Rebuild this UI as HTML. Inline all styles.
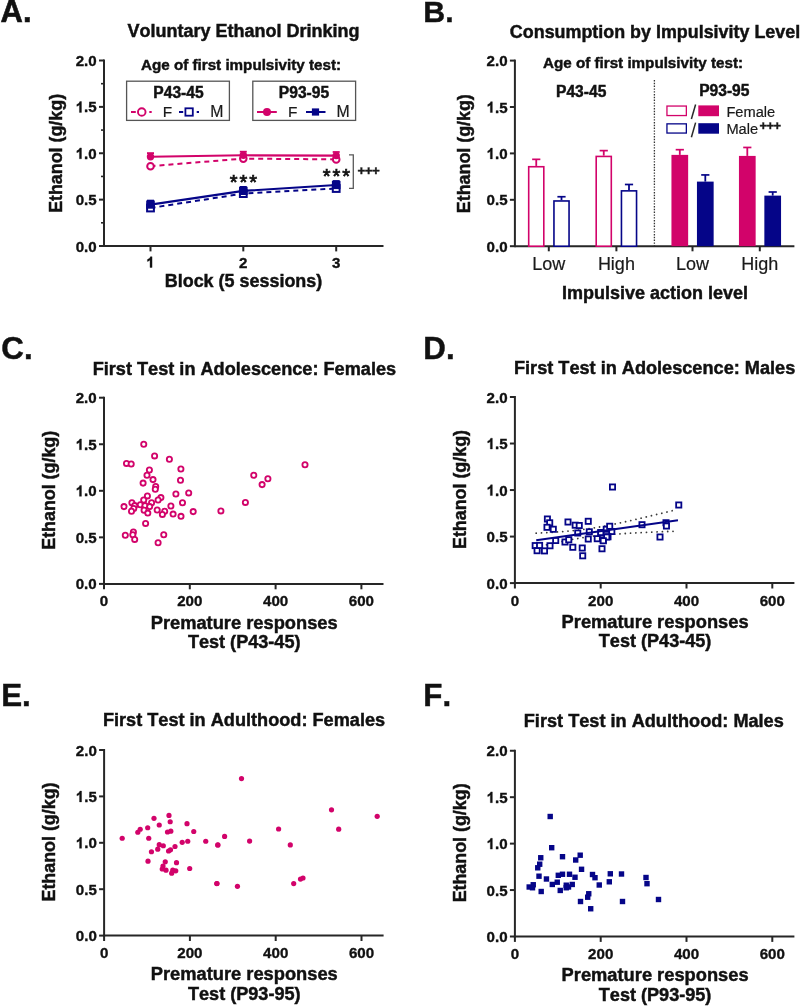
<!DOCTYPE html>
<html><head><meta charset="utf-8"><style>
html,body{margin:0;padding:0;background:#fff;}
svg{display:block;font-family:"Liberation Sans", sans-serif;font-kerning:none;will-change:transform;}
</style></head><body>
<svg width="800" height="1006" viewBox="0 0 800 1006">
<rect width="800" height="1006" fill="#fff"/>
<text x="0.60" y="21.90" font-size="30.9" font-weight="bold" text-anchor="start" fill="#111" stroke="#111" stroke-width="0.6">A.</text>
<text x="243.40" y="37.40" font-size="18.0" font-weight="bold" text-anchor="middle" fill="#111"  stroke="#111" stroke-width="0.45">Voluntary Ethanol Drinking</text>
<text x="241.00" y="69.80" font-size="15.2" font-weight="bold" text-anchor="middle" fill="#111"  stroke="#111" stroke-width="0.45">Age of first impulsivity test:</text>
<rect x="126.60" y="81.20" width="102.80" height="39.20" fill="none" stroke="#555" stroke-width="1.3" />
<rect x="252.80" y="81.20" width="102.80" height="39.20" fill="none" stroke="#555" stroke-width="1.3" />
<text x="178.50" y="97.50" font-size="15.6" font-weight="bold" text-anchor="middle" fill="#111"  stroke="#111" stroke-width="0.45">P43-45</text>
<text x="304.00" y="97.50" font-size="15.6" font-weight="bold" text-anchor="middle" fill="#111"  stroke="#111" stroke-width="0.45">P93-95</text>
<line x1="131.00" y1="112.00" x2="135.80" y2="112.00" stroke="#d2036a" stroke-width="2" />
<circle cx="141.75" cy="112.00" r="3.80" fill="#fff" stroke="#d2036a" stroke-width="1.9"/>
<line x1="149.30" y1="112.00" x2="151.70" y2="112.00" stroke="#d2036a" stroke-width="2" />
<text x="167.40" y="116.60" font-size="15.4" font-weight="normal" text-anchor="middle" fill="#1a1a1a"  stroke="#1a1a1a" stroke-width="0.2">F</text>
<line x1="179.00" y1="112.00" x2="183.20" y2="112.00" stroke="#050588" stroke-width="2" />
<rect x="185.40" y="108.30" width="7.40" height="7.40" fill="#fff" stroke="#050588" stroke-width="1.8" />
<line x1="196.70" y1="112.00" x2="199.00" y2="112.00" stroke="#050588" stroke-width="2" />
<text x="216.90" y="116.60" font-size="15.8" font-weight="normal" text-anchor="middle" fill="#1a1a1a"  stroke="#1a1a1a" stroke-width="0.2">M</text>
<line x1="257.00" y1="112.00" x2="276.80" y2="112.00" stroke="#d2036a" stroke-width="2" />
<circle cx="267.00" cy="112.00" r="4.00" fill="#d2036a" stroke="none" stroke-width="0"/>
<text x="292.80" y="116.60" font-size="15.4" font-weight="normal" text-anchor="middle" fill="#1a1a1a"  stroke="#1a1a1a" stroke-width="0.2">F</text>
<line x1="306.00" y1="112.00" x2="325.50" y2="112.00" stroke="#050588" stroke-width="2" />
<rect x="311.90" y="108.40" width="7.20" height="7.20" fill="#050588" stroke="none" stroke-width="0" />
<text x="343.00" y="116.60" font-size="15.8" font-weight="normal" text-anchor="middle" fill="#1a1a1a"  stroke="#1a1a1a" stroke-width="0.2">M</text>
<line x1="104.00" y1="59.50" x2="104.00" y2="247.00" stroke="#262626" stroke-width="2" />
<line x1="99.00" y1="246.00" x2="104.00" y2="246.00" stroke="#262626" stroke-width="2" />
<text x="96.70" y="251.50" font-size="15.1" font-weight="bold" text-anchor="end" fill="#111" stroke="#111" stroke-width="0.35">0.0</text>
<line x1="101.00" y1="222.81" x2="104.00" y2="222.81" stroke="#262626" stroke-width="1.6" />
<line x1="99.00" y1="199.62" x2="104.00" y2="199.62" stroke="#262626" stroke-width="2" />
<text x="96.70" y="205.12" font-size="15.1" font-weight="bold" text-anchor="end" fill="#111" stroke="#111" stroke-width="0.35">0.5</text>
<line x1="101.00" y1="176.44" x2="104.00" y2="176.44" stroke="#262626" stroke-width="1.6" />
<line x1="99.00" y1="153.25" x2="104.00" y2="153.25" stroke="#262626" stroke-width="2" />
<path d="M780,0 L506,0 L506,1032 Q356,892 152,825 L152,1073 Q259,1108 385,1206 Q511,1304 558,1466 L780,1466 Z" fill="#111" stroke="#111" stroke-width="47.5" transform="translate(75.71,158.75) scale(0.00737,-0.00737)"/>
<text x="84.11" y="158.75" font-size="15.1" font-weight="bold" text-anchor="start" fill="#111" stroke="#111" stroke-width="0.35">.0</text>
<line x1="101.00" y1="130.06" x2="104.00" y2="130.06" stroke="#262626" stroke-width="1.6" />
<line x1="99.00" y1="106.88" x2="104.00" y2="106.88" stroke="#262626" stroke-width="2" />
<path d="M780,0 L506,0 L506,1032 Q356,892 152,825 L152,1073 Q259,1108 385,1206 Q511,1304 558,1466 L780,1466 Z" fill="#111" stroke="#111" stroke-width="47.5" transform="translate(75.71,112.38) scale(0.00737,-0.00737)"/>
<text x="84.11" y="112.38" font-size="15.1" font-weight="bold" text-anchor="start" fill="#111" stroke="#111" stroke-width="0.35">.5</text>
<line x1="101.00" y1="83.69" x2="104.00" y2="83.69" stroke="#262626" stroke-width="1.6" />
<line x1="99.00" y1="60.50" x2="104.00" y2="60.50" stroke="#262626" stroke-width="2" />
<text x="96.70" y="66.00" font-size="15.1" font-weight="bold" text-anchor="end" fill="#111" stroke="#111" stroke-width="0.35">2.0</text>
<line x1="103.00" y1="246.00" x2="383.50" y2="246.00" stroke="#262626" stroke-width="2" />
<line x1="150.50" y1="246.00" x2="150.50" y2="251.40" stroke="#262626" stroke-width="2" />
<path d="M780,0 L506,0 L506,1032 Q356,892 152,825 L152,1073 Q259,1108 385,1206 Q511,1304 558,1466 L780,1466 Z" fill="#111" stroke="#111" stroke-width="47.5" transform="translate(146.30,267.50) scale(0.00737,-0.00737)"/>
<line x1="243.30" y1="246.00" x2="243.30" y2="251.40" stroke="#262626" stroke-width="2" />
<text x="243.30" y="267.50" font-size="15.1" font-weight="bold" text-anchor="middle" fill="#111" stroke="#111" stroke-width="0.35">2</text>
<line x1="336.20" y1="246.00" x2="336.20" y2="251.40" stroke="#262626" stroke-width="2" />
<text x="336.20" y="267.50" font-size="15.1" font-weight="bold" text-anchor="middle" fill="#111" stroke="#111" stroke-width="0.35">3</text>
<text x="243.50" y="286.75" font-size="17.95" font-weight="bold" text-anchor="middle" fill="#111"  stroke="#111" stroke-width="0.45">Block (5 sessions)</text>
<text x="0.00" y="0.00" font-size="17.85" font-weight="bold" text-anchor="middle" fill="#111" transform="translate(62.00,153.40) rotate(-90)" stroke="#111" stroke-width="0.45">Ethanol (g/kg)</text>
<path d="M150.50,166.20 L243.30,158.60 L336.20,159.40" stroke="#d2036a" stroke-width="2" fill="none" stroke-dasharray="5,4"/>
<path d="M150.50,208.00 L243.30,193.60 L336.20,188.50" stroke="#050588" stroke-width="2" fill="none" stroke-dasharray="5,4"/>
<path d="M150.50,156.70 L243.30,155.30 L336.20,155.60" stroke="#d2036a" stroke-width="2.1" fill="none" />
<path d="M150.50,204.60 L243.30,190.90 L336.20,185.00" stroke="#050588" stroke-width="2.1" fill="none" />
<line x1="150.50" y1="156.70" x2="150.50" y2="153.10" stroke="#d2036a" stroke-width="1.6" />
<line x1="147.00" y1="153.10" x2="154.00" y2="153.10" stroke="#d2036a" stroke-width="1.8" />
<line x1="243.30" y1="155.30" x2="243.30" y2="151.70" stroke="#d2036a" stroke-width="1.6" />
<line x1="239.80" y1="151.70" x2="246.80" y2="151.70" stroke="#d2036a" stroke-width="1.8" />
<line x1="336.20" y1="155.60" x2="336.20" y2="152.00" stroke="#d2036a" stroke-width="1.6" />
<line x1="332.70" y1="152.00" x2="339.70" y2="152.00" stroke="#d2036a" stroke-width="1.8" />
<line x1="150.50" y1="204.60" x2="150.50" y2="200.60" stroke="#050588" stroke-width="1.6" />
<line x1="147.00" y1="200.60" x2="154.00" y2="200.60" stroke="#050588" stroke-width="1.8" />
<line x1="243.30" y1="190.90" x2="243.30" y2="186.90" stroke="#050588" stroke-width="1.6" />
<line x1="239.80" y1="186.90" x2="246.80" y2="186.90" stroke="#050588" stroke-width="1.8" />
<line x1="336.20" y1="185.00" x2="336.20" y2="181.00" stroke="#050588" stroke-width="1.6" />
<line x1="332.70" y1="181.00" x2="339.70" y2="181.00" stroke="#050588" stroke-width="1.8" />
<circle cx="150.50" cy="166.20" r="3.30" fill="#fff" stroke="#d2036a" stroke-width="2.0"/>
<circle cx="243.30" cy="158.60" r="3.30" fill="#fff" stroke="#d2036a" stroke-width="2.0"/>
<circle cx="336.20" cy="159.40" r="3.30" fill="#fff" stroke="#d2036a" stroke-width="2.0"/>
<rect x="147.10" y="204.60" width="6.80" height="6.80" fill="#fff" stroke="#050588" stroke-width="2" />
<rect x="239.90" y="190.20" width="6.80" height="6.80" fill="#fff" stroke="#050588" stroke-width="2" />
<rect x="332.80" y="185.10" width="6.80" height="6.80" fill="#fff" stroke="#050588" stroke-width="2" />
<circle cx="150.50" cy="156.70" r="3.70" fill="#d2036a" stroke="none" stroke-width="0"/>
<circle cx="243.30" cy="155.30" r="3.70" fill="#d2036a" stroke="none" stroke-width="0"/>
<circle cx="336.20" cy="155.60" r="3.70" fill="#d2036a" stroke="none" stroke-width="0"/>
<rect x="146.20" y="200.50" width="8.60" height="8.20" fill="#050588" stroke="none" stroke-width="0" />
<rect x="239.00" y="186.80" width="8.60" height="8.20" fill="#050588" stroke="none" stroke-width="0" />
<rect x="331.90" y="180.90" width="8.60" height="8.20" fill="#050588" stroke="none" stroke-width="0" />
<text x="244.40" y="189.00" font-size="20" font-weight="normal" text-anchor="middle" fill="#111" letter-spacing="1.9" stroke="#111" stroke-width="0.75">***</text>
<text x="337.40" y="182.50" font-size="20" font-weight="normal" text-anchor="middle" fill="#111" letter-spacing="1.9" stroke="#111" stroke-width="0.75">***</text>
<path d="M349.0,154.9 L353.3,154.9 L353.3,188.4 L349.0,188.4" stroke="#5a5a5a" stroke-width="1.3" fill="none" />
<text x="368.30" y="175.20" font-size="13.3" font-weight="bold" text-anchor="middle" fill="#1a1a1a" letter-spacing="-0.6" stroke="#1a1a1a" stroke-width="0.45">+++</text>
<text x="423.30" y="21.90" font-size="30.3" font-weight="bold" text-anchor="start" fill="#111" stroke="#111" stroke-width="0.4">B.</text>
<text x="655.00" y="37.50" font-size="17.9" font-weight="bold" text-anchor="middle" fill="#111"  stroke="#111" stroke-width="0.45">Consumption by Impulsivity Level</text>
<text x="643.00" y="68.20" font-size="15.2" font-weight="bold" text-anchor="middle" fill="#111"  stroke="#111" stroke-width="0.45">Age of first impulsivity test:</text>
<text x="581.20" y="96.50" font-size="15.6" font-weight="bold" text-anchor="middle" fill="#111"  stroke="#111" stroke-width="0.45">P43-45</text>
<text x="724.30" y="95.60" font-size="15.6" font-weight="bold" text-anchor="middle" fill="#111"  stroke="#111" stroke-width="0.45">P93-95</text>
<rect x="666.95" y="106.05" width="19.40" height="9.50" fill="#fff" stroke="#d2036a" stroke-width="1.3" />
<rect x="698.30" y="105.40" width="20.70" height="10.80" fill="#d2036a" stroke="none" stroke-width="0" />
<rect x="666.95" y="123.85" width="19.40" height="9.20" fill="#fff" stroke="#050588" stroke-width="1.3" />
<rect x="698.30" y="123.20" width="20.70" height="10.50" fill="#050588" stroke="none" stroke-width="0" />
<line x1="695.60" y1="104.50" x2="691.40" y2="119.00" stroke="#2a2a2a" stroke-width="1.5" />
<line x1="695.60" y1="122.60" x2="691.40" y2="137.30" stroke="#2a2a2a" stroke-width="1.5" />
<text x="726.40" y="117.10" font-size="14.65" font-weight="normal" text-anchor="start" fill="#1a1a1a"  stroke="#1a1a1a" stroke-width="0.2">Female</text>
<text x="726.40" y="133.80" font-size="14.65" font-weight="normal" text-anchor="start" fill="#1a1a1a"  stroke="#1a1a1a" stroke-width="0.2">Male</text>
<text x="770.00" y="130.20" font-size="13.0" font-weight="bold" text-anchor="middle" fill="#1a1a1a" letter-spacing="-0.6" stroke="#1a1a1a" stroke-width="0.45">+++</text>
<line x1="514.90" y1="59.60" x2="514.90" y2="247.20" stroke="#262626" stroke-width="2" />
<line x1="509.90" y1="246.20" x2="514.90" y2="246.20" stroke="#262626" stroke-width="2" />
<text x="507.60" y="251.70" font-size="15.1" font-weight="bold" text-anchor="end" fill="#111" stroke="#111" stroke-width="0.35">0.0</text>
<line x1="509.90" y1="199.80" x2="514.90" y2="199.80" stroke="#262626" stroke-width="2" />
<text x="507.60" y="205.30" font-size="15.1" font-weight="bold" text-anchor="end" fill="#111" stroke="#111" stroke-width="0.35">0.5</text>
<line x1="509.90" y1="153.40" x2="514.90" y2="153.40" stroke="#262626" stroke-width="2" />
<path d="M780,0 L506,0 L506,1032 Q356,892 152,825 L152,1073 Q259,1108 385,1206 Q511,1304 558,1466 L780,1466 Z" fill="#111" stroke="#111" stroke-width="47.5" transform="translate(486.61,158.90) scale(0.00737,-0.00737)"/>
<text x="495.01" y="158.90" font-size="15.1" font-weight="bold" text-anchor="start" fill="#111" stroke="#111" stroke-width="0.35">.0</text>
<line x1="509.90" y1="107.00" x2="514.90" y2="107.00" stroke="#262626" stroke-width="2" />
<path d="M780,0 L506,0 L506,1032 Q356,892 152,825 L152,1073 Q259,1108 385,1206 Q511,1304 558,1466 L780,1466 Z" fill="#111" stroke="#111" stroke-width="47.5" transform="translate(486.61,112.50) scale(0.00737,-0.00737)"/>
<text x="495.01" y="112.50" font-size="15.1" font-weight="bold" text-anchor="start" fill="#111" stroke="#111" stroke-width="0.35">.5</text>
<line x1="509.90" y1="60.60" x2="514.90" y2="60.60" stroke="#262626" stroke-width="2" />
<text x="507.60" y="66.10" font-size="15.1" font-weight="bold" text-anchor="end" fill="#111" stroke="#111" stroke-width="0.35">2.0</text>
<line x1="514.90" y1="246.20" x2="794.40" y2="246.20" stroke="#262626" stroke-width="2" />
<line x1="548.80" y1="246.20" x2="548.80" y2="251.30" stroke="#262626" stroke-width="2" />
<text x="548.80" y="269.50" font-size="18.0" font-weight="normal" text-anchor="middle" fill="#1a1a1a"  stroke="#1a1a1a" stroke-width="0.2">Low</text>
<line x1="616.40" y1="246.20" x2="616.40" y2="251.30" stroke="#262626" stroke-width="2" />
<text x="616.40" y="269.50" font-size="18.0" font-weight="normal" text-anchor="middle" fill="#1a1a1a"  stroke="#1a1a1a" stroke-width="0.2">High</text>
<line x1="692.50" y1="246.20" x2="692.50" y2="251.30" stroke="#262626" stroke-width="2" />
<text x="692.50" y="269.50" font-size="18.0" font-weight="normal" text-anchor="middle" fill="#1a1a1a"  stroke="#1a1a1a" stroke-width="0.2">Low</text>
<line x1="759.80" y1="246.20" x2="759.80" y2="251.30" stroke="#262626" stroke-width="2" />
<text x="759.80" y="269.50" font-size="18.0" font-weight="normal" text-anchor="middle" fill="#1a1a1a"  stroke="#1a1a1a" stroke-width="0.2">High</text>
<text x="655.00" y="299.00" font-size="18" font-weight="bold" text-anchor="middle" fill="#111"  stroke="#111" stroke-width="0.45">Impulsive action level</text>
<text x="0.00" y="0.00" font-size="17.85" font-weight="bold" text-anchor="middle" fill="#111" transform="translate(470.40,153.70) rotate(-90)" stroke="#111" stroke-width="0.45">Ethanol (g/kg)</text>
<line x1="654.40" y1="80.00" x2="654.40" y2="246.00" stroke="#333" stroke-width="1.3" stroke-dasharray="1.4,1.4"/>
<line x1="536.25" y1="165.93" x2="536.25" y2="159.34" stroke="#d2036a" stroke-width="1.8" />
<line x1="532.15" y1="159.34" x2="540.35" y2="159.34" stroke="#d2036a" stroke-width="1.7" />
<rect x="528.70" y="166.73" width="15.10" height="79.47" fill="#fff" stroke="#d2036a" stroke-width="1.6" />
<line x1="561.50" y1="200.17" x2="561.50" y2="196.74" stroke="#050588" stroke-width="1.8" />
<line x1="557.40" y1="196.74" x2="565.60" y2="196.74" stroke="#050588" stroke-width="1.7" />
<rect x="553.95" y="200.97" width="15.10" height="45.23" fill="#fff" stroke="#050588" stroke-width="1.6" />
<line x1="603.75" y1="155.63" x2="603.75" y2="150.62" stroke="#d2036a" stroke-width="1.8" />
<line x1="599.65" y1="150.62" x2="607.85" y2="150.62" stroke="#d2036a" stroke-width="1.7" />
<rect x="596.20" y="156.43" width="15.10" height="89.77" fill="#fff" stroke="#d2036a" stroke-width="1.6" />
<line x1="629.00" y1="190.06" x2="629.00" y2="184.49" stroke="#050588" stroke-width="1.8" />
<line x1="624.90" y1="184.49" x2="633.10" y2="184.49" stroke="#050588" stroke-width="1.7" />
<rect x="621.45" y="190.86" width="15.10" height="55.34" fill="#fff" stroke="#050588" stroke-width="1.6" />
<line x1="679.80" y1="154.88" x2="679.80" y2="149.69" stroke="#d2036a" stroke-width="1.8" />
<line x1="675.70" y1="149.69" x2="683.90" y2="149.69" stroke="#d2036a" stroke-width="1.7" />
<rect x="671.45" y="154.88" width="16.70" height="91.32" fill="#d2036a" stroke="none" stroke-width="0" />
<line x1="705.30" y1="181.61" x2="705.30" y2="174.93" stroke="#050588" stroke-width="1.8" />
<line x1="701.20" y1="174.93" x2="709.40" y2="174.93" stroke="#050588" stroke-width="1.7" />
<rect x="696.95" y="181.61" width="16.70" height="64.59" fill="#050588" stroke="none" stroke-width="0" />
<line x1="747.30" y1="155.91" x2="747.30" y2="147.46" stroke="#d2036a" stroke-width="1.8" />
<line x1="743.20" y1="147.46" x2="751.40" y2="147.46" stroke="#d2036a" stroke-width="1.7" />
<rect x="738.95" y="155.91" width="16.70" height="90.29" fill="#d2036a" stroke="none" stroke-width="0" />
<line x1="772.70" y1="195.62" x2="772.70" y2="192.00" stroke="#050588" stroke-width="1.8" />
<line x1="768.60" y1="192.00" x2="776.80" y2="192.00" stroke="#050588" stroke-width="1.7" />
<rect x="764.35" y="195.62" width="16.70" height="50.58" fill="#050588" stroke="none" stroke-width="0" />
<text x="1.30" y="358.90" font-size="31.3" font-weight="bold" text-anchor="start" fill="#111"  stroke="#111" stroke-width="0.45">C.</text>
<text x="244.40" y="375.00" font-size="18.15" font-weight="bold" text-anchor="middle" fill="#111"  stroke="#111" stroke-width="0.45">First Test in Adolescence: Females</text>
<line x1="104.00" y1="396.70" x2="104.00" y2="584.90" stroke="#262626" stroke-width="2" />
<line x1="99.00" y1="583.90" x2="104.00" y2="583.90" stroke="#262626" stroke-width="2" />
<text x="96.70" y="589.40" font-size="15.1" font-weight="bold" text-anchor="end" fill="#111" stroke="#111" stroke-width="0.35">0.0</text>
<line x1="99.00" y1="537.35" x2="104.00" y2="537.35" stroke="#262626" stroke-width="2" />
<text x="96.70" y="542.85" font-size="15.1" font-weight="bold" text-anchor="end" fill="#111" stroke="#111" stroke-width="0.35">0.5</text>
<line x1="99.00" y1="490.80" x2="104.00" y2="490.80" stroke="#262626" stroke-width="2" />
<path d="M780,0 L506,0 L506,1032 Q356,892 152,825 L152,1073 Q259,1108 385,1206 Q511,1304 558,1466 L780,1466 Z" fill="#111" stroke="#111" stroke-width="47.5" transform="translate(75.71,496.30) scale(0.00737,-0.00737)"/>
<text x="84.11" y="496.30" font-size="15.1" font-weight="bold" text-anchor="start" fill="#111" stroke="#111" stroke-width="0.35">.0</text>
<line x1="99.00" y1="444.25" x2="104.00" y2="444.25" stroke="#262626" stroke-width="2" />
<path d="M780,0 L506,0 L506,1032 Q356,892 152,825 L152,1073 Q259,1108 385,1206 Q511,1304 558,1466 L780,1466 Z" fill="#111" stroke="#111" stroke-width="47.5" transform="translate(75.71,449.75) scale(0.00737,-0.00737)"/>
<text x="84.11" y="449.75" font-size="15.1" font-weight="bold" text-anchor="start" fill="#111" stroke="#111" stroke-width="0.35">.5</text>
<line x1="99.00" y1="397.70" x2="104.00" y2="397.70" stroke="#262626" stroke-width="2" />
<text x="96.70" y="403.20" font-size="15.1" font-weight="bold" text-anchor="end" fill="#111" stroke="#111" stroke-width="0.35">2.0</text>
<line x1="103.00" y1="583.90" x2="383.50" y2="583.90" stroke="#262626" stroke-width="2" />
<line x1="104.00" y1="583.90" x2="104.00" y2="589.30" stroke="#262626" stroke-width="2" />
<text x="104.00" y="606.30" font-size="15.1" font-weight="bold" text-anchor="middle" fill="#111" stroke="#111" stroke-width="0.35">0</text>
<line x1="189.80" y1="583.90" x2="189.80" y2="589.30" stroke="#262626" stroke-width="2" />
<text x="189.80" y="606.30" font-size="15.1" font-weight="bold" text-anchor="middle" fill="#111" stroke="#111" stroke-width="0.35">200</text>
<line x1="275.60" y1="583.90" x2="275.60" y2="589.30" stroke="#262626" stroke-width="2" />
<text x="275.60" y="606.30" font-size="15.1" font-weight="bold" text-anchor="middle" fill="#111" stroke="#111" stroke-width="0.35">400</text>
<line x1="361.40" y1="583.90" x2="361.40" y2="589.30" stroke="#262626" stroke-width="2" />
<text x="361.40" y="606.30" font-size="15.1" font-weight="bold" text-anchor="middle" fill="#111" stroke="#111" stroke-width="0.35">600</text>
<text x="244.20" y="628.60" font-size="18.3" font-weight="bold" text-anchor="middle" fill="#111"  stroke="#111" stroke-width="0.45">Premature responses</text>
<text x="244.20" y="648.20" font-size="18.1" font-weight="bold" text-anchor="middle" fill="#111"  stroke="#111" stroke-width="0.45">Test (P43-45)</text>
<text x="0.00" y="0.00" font-size="17.85" font-weight="bold" text-anchor="middle" fill="#111" transform="translate(54.50,490.30) rotate(-90)" stroke="#111" stroke-width="0.45">Ethanol (g/kg)</text>
<text x="423.30" y="358.90" font-size="31.3" font-weight="bold" text-anchor="start" fill="#111"  stroke="#111" stroke-width="0.45">D.</text>
<text x="654.60" y="373.90" font-size="18.15" font-weight="bold" text-anchor="middle" fill="#111"  stroke="#111" stroke-width="0.45">First Test in Adolescence: Males</text>
<line x1="514.90" y1="396.00" x2="514.90" y2="584.10" stroke="#262626" stroke-width="2" />
<line x1="509.90" y1="583.10" x2="514.90" y2="583.10" stroke="#262626" stroke-width="2" />
<text x="507.60" y="588.60" font-size="15.1" font-weight="bold" text-anchor="end" fill="#111" stroke="#111" stroke-width="0.35">0.0</text>
<line x1="509.90" y1="536.58" x2="514.90" y2="536.58" stroke="#262626" stroke-width="2" />
<text x="507.60" y="542.08" font-size="15.1" font-weight="bold" text-anchor="end" fill="#111" stroke="#111" stroke-width="0.35">0.5</text>
<line x1="509.90" y1="490.05" x2="514.90" y2="490.05" stroke="#262626" stroke-width="2" />
<path d="M780,0 L506,0 L506,1032 Q356,892 152,825 L152,1073 Q259,1108 385,1206 Q511,1304 558,1466 L780,1466 Z" fill="#111" stroke="#111" stroke-width="47.5" transform="translate(486.61,495.55) scale(0.00737,-0.00737)"/>
<text x="495.01" y="495.55" font-size="15.1" font-weight="bold" text-anchor="start" fill="#111" stroke="#111" stroke-width="0.35">.0</text>
<line x1="509.90" y1="443.52" x2="514.90" y2="443.52" stroke="#262626" stroke-width="2" />
<path d="M780,0 L506,0 L506,1032 Q356,892 152,825 L152,1073 Q259,1108 385,1206 Q511,1304 558,1466 L780,1466 Z" fill="#111" stroke="#111" stroke-width="47.5" transform="translate(486.61,449.02) scale(0.00737,-0.00737)"/>
<text x="495.01" y="449.02" font-size="15.1" font-weight="bold" text-anchor="start" fill="#111" stroke="#111" stroke-width="0.35">.5</text>
<line x1="509.90" y1="397.00" x2="514.90" y2="397.00" stroke="#262626" stroke-width="2" />
<text x="507.60" y="402.50" font-size="15.1" font-weight="bold" text-anchor="end" fill="#111" stroke="#111" stroke-width="0.35">2.0</text>
<line x1="513.90" y1="583.10" x2="794.40" y2="583.10" stroke="#262626" stroke-width="2" />
<line x1="514.90" y1="583.10" x2="514.90" y2="588.50" stroke="#262626" stroke-width="2" />
<text x="514.90" y="605.50" font-size="15.1" font-weight="bold" text-anchor="middle" fill="#111" stroke="#111" stroke-width="0.35">0</text>
<line x1="600.70" y1="583.10" x2="600.70" y2="588.50" stroke="#262626" stroke-width="2" />
<text x="600.70" y="605.50" font-size="15.1" font-weight="bold" text-anchor="middle" fill="#111" stroke="#111" stroke-width="0.35">200</text>
<line x1="686.50" y1="583.10" x2="686.50" y2="588.50" stroke="#262626" stroke-width="2" />
<text x="686.50" y="605.50" font-size="15.1" font-weight="bold" text-anchor="middle" fill="#111" stroke="#111" stroke-width="0.35">400</text>
<line x1="772.30" y1="583.10" x2="772.30" y2="588.50" stroke="#262626" stroke-width="2" />
<text x="772.30" y="605.50" font-size="15.1" font-weight="bold" text-anchor="middle" fill="#111" stroke="#111" stroke-width="0.35">600</text>
<text x="655.10" y="627.80" font-size="18.3" font-weight="bold" text-anchor="middle" fill="#111"  stroke="#111" stroke-width="0.45">Premature responses</text>
<text x="655.10" y="647.40" font-size="18.1" font-weight="bold" text-anchor="middle" fill="#111"  stroke="#111" stroke-width="0.45">Test (P43-45)</text>
<text x="0.00" y="0.00" font-size="17.85" font-weight="bold" text-anchor="middle" fill="#111" transform="translate(466.20,489.50) rotate(-90)" stroke="#111" stroke-width="0.45">Ethanol (g/kg)</text>
<text x="1.20" y="705.90" font-size="31.3" font-weight="bold" text-anchor="start" fill="#111"  stroke="#111" stroke-width="0.45">E.</text>
<text x="244.00" y="726.20" font-size="18.15" font-weight="bold" text-anchor="middle" fill="#111"  stroke="#111" stroke-width="0.45">First Test in Adulthood: Females</text>
<line x1="104.10" y1="749.00" x2="104.10" y2="936.60" stroke="#262626" stroke-width="2" />
<line x1="99.10" y1="935.60" x2="104.10" y2="935.60" stroke="#262626" stroke-width="2" />
<text x="96.80" y="941.10" font-size="15.1" font-weight="bold" text-anchor="end" fill="#111" stroke="#111" stroke-width="0.35">0.0</text>
<line x1="99.10" y1="889.20" x2="104.10" y2="889.20" stroke="#262626" stroke-width="2" />
<text x="96.80" y="894.70" font-size="15.1" font-weight="bold" text-anchor="end" fill="#111" stroke="#111" stroke-width="0.35">0.5</text>
<line x1="99.10" y1="842.80" x2="104.10" y2="842.80" stroke="#262626" stroke-width="2" />
<path d="M780,0 L506,0 L506,1032 Q356,892 152,825 L152,1073 Q259,1108 385,1206 Q511,1304 558,1466 L780,1466 Z" fill="#111" stroke="#111" stroke-width="47.5" transform="translate(75.81,848.30) scale(0.00737,-0.00737)"/>
<text x="84.21" y="848.30" font-size="15.1" font-weight="bold" text-anchor="start" fill="#111" stroke="#111" stroke-width="0.35">.0</text>
<line x1="99.10" y1="796.40" x2="104.10" y2="796.40" stroke="#262626" stroke-width="2" />
<path d="M780,0 L506,0 L506,1032 Q356,892 152,825 L152,1073 Q259,1108 385,1206 Q511,1304 558,1466 L780,1466 Z" fill="#111" stroke="#111" stroke-width="47.5" transform="translate(75.81,801.90) scale(0.00737,-0.00737)"/>
<text x="84.21" y="801.90" font-size="15.1" font-weight="bold" text-anchor="start" fill="#111" stroke="#111" stroke-width="0.35">.5</text>
<line x1="99.10" y1="750.00" x2="104.10" y2="750.00" stroke="#262626" stroke-width="2" />
<text x="96.80" y="755.50" font-size="15.1" font-weight="bold" text-anchor="end" fill="#111" stroke="#111" stroke-width="0.35">2.0</text>
<line x1="103.10" y1="935.60" x2="383.60" y2="935.60" stroke="#262626" stroke-width="2" />
<line x1="104.10" y1="935.60" x2="104.10" y2="941.00" stroke="#262626" stroke-width="2" />
<text x="104.10" y="958.00" font-size="15.1" font-weight="bold" text-anchor="middle" fill="#111" stroke="#111" stroke-width="0.35">0</text>
<line x1="189.90" y1="935.60" x2="189.90" y2="941.00" stroke="#262626" stroke-width="2" />
<text x="189.90" y="958.00" font-size="15.1" font-weight="bold" text-anchor="middle" fill="#111" stroke="#111" stroke-width="0.35">200</text>
<line x1="275.70" y1="935.60" x2="275.70" y2="941.00" stroke="#262626" stroke-width="2" />
<text x="275.70" y="958.00" font-size="15.1" font-weight="bold" text-anchor="middle" fill="#111" stroke="#111" stroke-width="0.35">400</text>
<line x1="361.50" y1="935.60" x2="361.50" y2="941.00" stroke="#262626" stroke-width="2" />
<text x="361.50" y="958.00" font-size="15.1" font-weight="bold" text-anchor="middle" fill="#111" stroke="#111" stroke-width="0.35">600</text>
<text x="244.30" y="980.30" font-size="18.3" font-weight="bold" text-anchor="middle" fill="#111"  stroke="#111" stroke-width="0.45">Premature responses</text>
<text x="244.30" y="999.90" font-size="18.1" font-weight="bold" text-anchor="middle" fill="#111"  stroke="#111" stroke-width="0.45">Test (P93-95)</text>
<text x="0.00" y="0.00" font-size="17.85" font-weight="bold" text-anchor="middle" fill="#111" transform="translate(54.60,842.00) rotate(-90)" stroke="#111" stroke-width="0.45">Ethanol (g/kg)</text>
<text x="423.30" y="705.90" font-size="31.3" font-weight="bold" text-anchor="start" fill="#111"  stroke="#111" stroke-width="0.45">F.</text>
<text x="653.80" y="727.40" font-size="18.15" font-weight="bold" text-anchor="middle" fill="#111"  stroke="#111" stroke-width="0.45">First Test in Adulthood: Males</text>
<line x1="514.90" y1="749.75" x2="514.90" y2="937.50" stroke="#262626" stroke-width="2" />
<line x1="509.90" y1="936.50" x2="514.90" y2="936.50" stroke="#262626" stroke-width="2" />
<text x="507.60" y="942.00" font-size="15.1" font-weight="bold" text-anchor="end" fill="#111" stroke="#111" stroke-width="0.35">0.0</text>
<line x1="509.90" y1="890.06" x2="514.90" y2="890.06" stroke="#262626" stroke-width="2" />
<text x="507.60" y="895.56" font-size="15.1" font-weight="bold" text-anchor="end" fill="#111" stroke="#111" stroke-width="0.35">0.5</text>
<line x1="509.90" y1="843.62" x2="514.90" y2="843.62" stroke="#262626" stroke-width="2" />
<path d="M780,0 L506,0 L506,1032 Q356,892 152,825 L152,1073 Q259,1108 385,1206 Q511,1304 558,1466 L780,1466 Z" fill="#111" stroke="#111" stroke-width="47.5" transform="translate(486.61,849.12) scale(0.00737,-0.00737)"/>
<text x="495.01" y="849.12" font-size="15.1" font-weight="bold" text-anchor="start" fill="#111" stroke="#111" stroke-width="0.35">.0</text>
<line x1="509.90" y1="797.19" x2="514.90" y2="797.19" stroke="#262626" stroke-width="2" />
<path d="M780,0 L506,0 L506,1032 Q356,892 152,825 L152,1073 Q259,1108 385,1206 Q511,1304 558,1466 L780,1466 Z" fill="#111" stroke="#111" stroke-width="47.5" transform="translate(486.61,802.69) scale(0.00737,-0.00737)"/>
<text x="495.01" y="802.69" font-size="15.1" font-weight="bold" text-anchor="start" fill="#111" stroke="#111" stroke-width="0.35">.5</text>
<line x1="509.90" y1="750.75" x2="514.90" y2="750.75" stroke="#262626" stroke-width="2" />
<text x="507.60" y="756.25" font-size="15.1" font-weight="bold" text-anchor="end" fill="#111" stroke="#111" stroke-width="0.35">2.0</text>
<line x1="513.90" y1="936.50" x2="794.40" y2="936.50" stroke="#262626" stroke-width="2" />
<line x1="514.90" y1="936.50" x2="514.90" y2="941.90" stroke="#262626" stroke-width="2" />
<text x="514.90" y="958.90" font-size="15.1" font-weight="bold" text-anchor="middle" fill="#111" stroke="#111" stroke-width="0.35">0</text>
<line x1="600.70" y1="936.50" x2="600.70" y2="941.90" stroke="#262626" stroke-width="2" />
<text x="600.70" y="958.90" font-size="15.1" font-weight="bold" text-anchor="middle" fill="#111" stroke="#111" stroke-width="0.35">200</text>
<line x1="686.50" y1="936.50" x2="686.50" y2="941.90" stroke="#262626" stroke-width="2" />
<text x="686.50" y="958.90" font-size="15.1" font-weight="bold" text-anchor="middle" fill="#111" stroke="#111" stroke-width="0.35">400</text>
<line x1="772.30" y1="936.50" x2="772.30" y2="941.90" stroke="#262626" stroke-width="2" />
<text x="772.30" y="958.90" font-size="15.1" font-weight="bold" text-anchor="middle" fill="#111" stroke="#111" stroke-width="0.35">600</text>
<text x="655.10" y="981.20" font-size="18.3" font-weight="bold" text-anchor="middle" fill="#111"  stroke="#111" stroke-width="0.45">Premature responses</text>
<text x="655.10" y="1000.80" font-size="18.1" font-weight="bold" text-anchor="middle" fill="#111"  stroke="#111" stroke-width="0.45">Test (P93-95)</text>
<text x="0.00" y="0.00" font-size="17.85" font-weight="bold" text-anchor="middle" fill="#111" transform="translate(466.20,842.90) rotate(-90)" stroke="#111" stroke-width="0.45">Ethanol (g/kg)</text>
<circle cx="143.75" cy="444.30" r="2.60" fill="#fff" stroke="#d2036a" stroke-width="1.85"/>
<circle cx="154.60" cy="455.90" r="2.60" fill="#fff" stroke="#d2036a" stroke-width="1.85"/>
<circle cx="169.40" cy="459.30" r="2.60" fill="#fff" stroke="#d2036a" stroke-width="1.85"/>
<circle cx="126.50" cy="463.40" r="2.60" fill="#fff" stroke="#d2036a" stroke-width="1.85"/>
<circle cx="131.20" cy="464.00" r="2.60" fill="#fff" stroke="#d2036a" stroke-width="1.85"/>
<circle cx="180.90" cy="469.00" r="2.60" fill="#fff" stroke="#d2036a" stroke-width="1.85"/>
<circle cx="149.40" cy="470.00" r="2.60" fill="#fff" stroke="#d2036a" stroke-width="1.85"/>
<circle cx="147.00" cy="475.20" r="2.60" fill="#fff" stroke="#d2036a" stroke-width="1.85"/>
<circle cx="153.00" cy="479.60" r="2.60" fill="#fff" stroke="#d2036a" stroke-width="1.85"/>
<circle cx="180.50" cy="480.20" r="2.60" fill="#fff" stroke="#d2036a" stroke-width="1.85"/>
<circle cx="143.10" cy="483.10" r="2.60" fill="#fff" stroke="#d2036a" stroke-width="1.85"/>
<circle cx="155.70" cy="486.50" r="2.60" fill="#fff" stroke="#d2036a" stroke-width="1.85"/>
<circle cx="155.30" cy="489.30" r="2.60" fill="#fff" stroke="#d2036a" stroke-width="1.85"/>
<circle cx="175.90" cy="494.00" r="2.60" fill="#fff" stroke="#d2036a" stroke-width="1.85"/>
<circle cx="188.70" cy="492.90" r="2.60" fill="#fff" stroke="#d2036a" stroke-width="1.85"/>
<circle cx="147.40" cy="495.90" r="2.60" fill="#fff" stroke="#d2036a" stroke-width="1.85"/>
<circle cx="160.90" cy="497.60" r="2.60" fill="#fff" stroke="#d2036a" stroke-width="1.85"/>
<circle cx="158.10" cy="500.00" r="2.60" fill="#fff" stroke="#d2036a" stroke-width="1.85"/>
<circle cx="143.70" cy="500.00" r="2.60" fill="#fff" stroke="#d2036a" stroke-width="1.85"/>
<circle cx="131.90" cy="502.80" r="2.60" fill="#fff" stroke="#d2036a" stroke-width="1.85"/>
<circle cx="151.60" cy="502.80" r="2.60" fill="#fff" stroke="#d2036a" stroke-width="1.85"/>
<circle cx="182.50" cy="502.80" r="2.60" fill="#fff" stroke="#d2036a" stroke-width="1.85"/>
<circle cx="245.40" cy="502.40" r="2.60" fill="#fff" stroke="#d2036a" stroke-width="1.85"/>
<circle cx="124.00" cy="506.60" r="2.60" fill="#fff" stroke="#d2036a" stroke-width="1.85"/>
<circle cx="134.70" cy="505.60" r="2.60" fill="#fff" stroke="#d2036a" stroke-width="1.85"/>
<circle cx="140.30" cy="504.70" r="2.60" fill="#fff" stroke="#d2036a" stroke-width="1.85"/>
<circle cx="145.00" cy="505.60" r="2.60" fill="#fff" stroke="#d2036a" stroke-width="1.85"/>
<circle cx="149.70" cy="506.60" r="2.60" fill="#fff" stroke="#d2036a" stroke-width="1.85"/>
<circle cx="170.90" cy="506.00" r="2.60" fill="#fff" stroke="#d2036a" stroke-width="1.85"/>
<circle cx="133.75" cy="508.40" r="2.60" fill="#fff" stroke="#d2036a" stroke-width="1.85"/>
<circle cx="131.50" cy="511.25" r="2.60" fill="#fff" stroke="#d2036a" stroke-width="1.85"/>
<circle cx="144.10" cy="510.30" r="2.60" fill="#fff" stroke="#d2036a" stroke-width="1.85"/>
<circle cx="147.80" cy="513.10" r="2.60" fill="#fff" stroke="#d2036a" stroke-width="1.85"/>
<circle cx="157.20" cy="510.00" r="2.60" fill="#fff" stroke="#d2036a" stroke-width="1.85"/>
<circle cx="164.70" cy="511.25" r="2.60" fill="#fff" stroke="#d2036a" stroke-width="1.85"/>
<circle cx="162.40" cy="514.40" r="2.60" fill="#fff" stroke="#d2036a" stroke-width="1.85"/>
<circle cx="173.10" cy="514.10" r="2.60" fill="#fff" stroke="#d2036a" stroke-width="1.85"/>
<circle cx="181.00" cy="516.30" r="2.60" fill="#fff" stroke="#d2036a" stroke-width="1.85"/>
<circle cx="193.20" cy="511.60" r="2.60" fill="#fff" stroke="#d2036a" stroke-width="1.85"/>
<circle cx="220.90" cy="510.90" r="2.60" fill="#fff" stroke="#d2036a" stroke-width="1.85"/>
<circle cx="145.60" cy="523.40" r="2.60" fill="#fff" stroke="#d2036a" stroke-width="1.85"/>
<circle cx="125.30" cy="535.25" r="2.60" fill="#fff" stroke="#d2036a" stroke-width="1.85"/>
<circle cx="133.40" cy="531.90" r="2.60" fill="#fff" stroke="#d2036a" stroke-width="1.85"/>
<circle cx="132.80" cy="534.70" r="2.60" fill="#fff" stroke="#d2036a" stroke-width="1.85"/>
<circle cx="134.70" cy="539.40" r="2.60" fill="#fff" stroke="#d2036a" stroke-width="1.85"/>
<circle cx="163.75" cy="534.70" r="2.60" fill="#fff" stroke="#d2036a" stroke-width="1.85"/>
<circle cx="158.10" cy="542.75" r="2.60" fill="#fff" stroke="#d2036a" stroke-width="1.85"/>
<circle cx="305.00" cy="464.75" r="2.60" fill="#fff" stroke="#d2036a" stroke-width="1.85"/>
<circle cx="253.75" cy="475.25" r="2.60" fill="#fff" stroke="#d2036a" stroke-width="1.85"/>
<circle cx="267.90" cy="478.75" r="2.60" fill="#fff" stroke="#d2036a" stroke-width="1.85"/>
<circle cx="262.10" cy="484.60" r="2.60" fill="#fff" stroke="#d2036a" stroke-width="1.85"/>
<path d="M536.20,533.19 L539.65,533.01 L543.10,532.83 L546.55,532.64 L550.00,532.43 L553.46,532.22 L556.91,531.99 L560.36,531.74 L563.81,531.47 L567.26,531.19 L570.71,530.87 L574.16,530.54 L577.62,530.17 L581.07,529.76 L584.52,529.33 L587.97,528.85 L591.42,528.34 L594.87,527.80 L598.32,527.22 L601.77,526.60 L605.23,525.96 L608.68,525.29 L612.13,524.60 L615.58,523.89 L619.03,523.15 L622.48,522.41 L625.93,521.65 L629.38,520.87 L632.84,520.09 L636.29,519.30 L639.74,518.50 L643.19,517.69 L646.64,516.88 L650.09,516.06 L653.54,515.24 L656.99,514.41 L660.45,513.58 L663.90,512.75 L667.35,511.91 L670.80,511.07 L674.25,510.23" stroke="#3a3a3a" stroke-width="1.8" fill="none" stroke-dasharray="0.01,5.3" stroke-linecap="round"/>
<path d="M536.20,547.21 L539.65,546.41 L543.10,545.62 L546.55,544.84 L550.00,544.07 L553.46,543.32 L556.91,542.57 L560.36,541.85 L563.81,541.14 L567.26,540.45 L570.71,539.79 L574.16,539.16 L577.62,538.55 L581.07,537.98 L584.52,537.44 L587.97,536.94 L591.42,536.48 L594.87,536.05 L598.32,535.66 L601.77,535.30 L605.23,534.97 L608.68,534.66 L612.13,534.38 L615.58,534.12 L619.03,533.88 L622.48,533.65 L625.93,533.44 L629.38,533.24 L632.84,533.05 L636.29,532.87 L639.74,532.70 L643.19,532.53 L646.64,532.37 L650.09,532.21 L653.54,532.06 L656.99,531.91 L660.45,531.77 L663.90,531.63 L667.35,531.49 L670.80,531.36 L674.25,531.23" stroke="#3a3a3a" stroke-width="1.8" fill="none" stroke-dasharray="0.01,5.3" stroke-linecap="round"/>
<rect x="609.90" y="484.40" width="5.20" height="5.20" fill="#fff" stroke="#050588" stroke-width="1.8" />
<rect x="544.80" y="516.40" width="5.20" height="5.20" fill="#fff" stroke="#050588" stroke-width="1.8" />
<rect x="547.10" y="520.20" width="5.20" height="5.20" fill="#fff" stroke="#050588" stroke-width="1.8" />
<rect x="544.40" y="524.70" width="5.20" height="5.20" fill="#fff" stroke="#050588" stroke-width="1.8" />
<rect x="550.70" y="526.65" width="5.20" height="5.20" fill="#fff" stroke="#050588" stroke-width="1.8" />
<rect x="565.40" y="519.40" width="5.20" height="5.20" fill="#fff" stroke="#050588" stroke-width="1.8" />
<rect x="572.60" y="522.60" width="5.20" height="5.20" fill="#fff" stroke="#050588" stroke-width="1.8" />
<rect x="576.65" y="522.90" width="5.20" height="5.20" fill="#fff" stroke="#050588" stroke-width="1.8" />
<rect x="585.65" y="518.70" width="5.20" height="5.20" fill="#fff" stroke="#050588" stroke-width="1.8" />
<rect x="575.15" y="530.40" width="5.20" height="5.20" fill="#fff" stroke="#050588" stroke-width="1.8" />
<rect x="586.70" y="529.20" width="5.20" height="5.20" fill="#fff" stroke="#050588" stroke-width="1.8" />
<rect x="598.40" y="530.40" width="5.20" height="5.20" fill="#fff" stroke="#050588" stroke-width="1.8" />
<rect x="603.65" y="526.65" width="5.20" height="5.20" fill="#fff" stroke="#050588" stroke-width="1.8" />
<rect x="607.10" y="523.65" width="5.20" height="5.20" fill="#fff" stroke="#050588" stroke-width="1.8" />
<rect x="609.20" y="528.90" width="5.20" height="5.20" fill="#fff" stroke="#050588" stroke-width="1.8" />
<rect x="605.40" y="534.15" width="5.20" height="5.20" fill="#fff" stroke="#050588" stroke-width="1.8" />
<rect x="532.60" y="543.00" width="5.20" height="5.20" fill="#fff" stroke="#050588" stroke-width="1.8" />
<rect x="534.50" y="548.10" width="5.20" height="5.20" fill="#fff" stroke="#050588" stroke-width="1.8" />
<rect x="537.00" y="542.80" width="5.20" height="5.20" fill="#fff" stroke="#050588" stroke-width="1.8" />
<rect x="541.90" y="548.30" width="5.20" height="5.20" fill="#fff" stroke="#050588" stroke-width="1.8" />
<rect x="547.40" y="543.15" width="5.20" height="5.20" fill="#fff" stroke="#050588" stroke-width="1.8" />
<rect x="553.10" y="537.90" width="5.20" height="5.20" fill="#fff" stroke="#050588" stroke-width="1.8" />
<rect x="562.40" y="539.40" width="5.20" height="5.20" fill="#fff" stroke="#050588" stroke-width="1.8" />
<rect x="566.15" y="537.15" width="5.20" height="5.20" fill="#fff" stroke="#050588" stroke-width="1.8" />
<rect x="570.20" y="544.65" width="5.20" height="5.20" fill="#fff" stroke="#050588" stroke-width="1.8" />
<rect x="579.65" y="545.40" width="5.20" height="5.20" fill="#fff" stroke="#050588" stroke-width="1.8" />
<rect x="580.10" y="553.20" width="5.20" height="5.20" fill="#fff" stroke="#050588" stroke-width="1.8" />
<rect x="585.65" y="536.40" width="5.20" height="5.20" fill="#fff" stroke="#050588" stroke-width="1.8" />
<rect x="594.65" y="536.10" width="5.20" height="5.20" fill="#fff" stroke="#050588" stroke-width="1.8" />
<rect x="600.65" y="537.60" width="5.20" height="5.20" fill="#fff" stroke="#050588" stroke-width="1.8" />
<rect x="599.40" y="546.15" width="5.20" height="5.20" fill="#fff" stroke="#050588" stroke-width="1.8" />
<rect x="676.15" y="502.40" width="5.20" height="5.20" fill="#fff" stroke="#050588" stroke-width="1.8" />
<rect x="639.40" y="522.10" width="5.20" height="5.20" fill="#fff" stroke="#050588" stroke-width="1.8" />
<rect x="663.40" y="520.15" width="5.20" height="5.20" fill="#fff" stroke="#050588" stroke-width="1.8" />
<rect x="663.85" y="523.40" width="5.20" height="5.20" fill="#fff" stroke="#050588" stroke-width="1.8" />
<rect x="657.40" y="534.40" width="5.20" height="5.20" fill="#fff" stroke="#050588" stroke-width="1.8" />
<rect x="604.15" y="534.40" width="5.20" height="5.20" fill="#fff" stroke="#050588" stroke-width="1.8" />
<rect x="600.70" y="538.15" width="5.20" height="5.20" fill="#fff" stroke="#050588" stroke-width="1.8" />
<rect x="598.15" y="529.90" width="5.20" height="5.20" fill="#fff" stroke="#050588" stroke-width="1.8" />
<line x1="536.20" y1="540.20" x2="678.00" y2="520.20" stroke="#050588" stroke-width="2" />
<circle cx="169.00" cy="815.45" r="2.60" fill="#d2036a" stroke="none" stroke-width="0"/>
<circle cx="154.00" cy="818.30" r="2.60" fill="#d2036a" stroke="none" stroke-width="0"/>
<circle cx="170.20" cy="821.75" r="2.60" fill="#d2036a" stroke="none" stroke-width="0"/>
<circle cx="187.00" cy="823.70" r="2.60" fill="#d2036a" stroke="none" stroke-width="0"/>
<circle cx="159.25" cy="825.00" r="2.60" fill="#d2036a" stroke="none" stroke-width="0"/>
<circle cx="147.70" cy="827.75" r="2.60" fill="#d2036a" stroke="none" stroke-width="0"/>
<circle cx="140.20" cy="829.25" r="2.60" fill="#d2036a" stroke="none" stroke-width="0"/>
<circle cx="137.80" cy="832.25" r="2.60" fill="#d2036a" stroke="none" stroke-width="0"/>
<circle cx="167.50" cy="832.00" r="2.60" fill="#d2036a" stroke="none" stroke-width="0"/>
<circle cx="170.80" cy="831.20" r="2.60" fill="#d2036a" stroke="none" stroke-width="0"/>
<circle cx="193.75" cy="831.50" r="2.60" fill="#d2036a" stroke="none" stroke-width="0"/>
<circle cx="122.20" cy="838.25" r="2.60" fill="#d2036a" stroke="none" stroke-width="0"/>
<circle cx="148.75" cy="838.25" r="2.60" fill="#d2036a" stroke="none" stroke-width="0"/>
<circle cx="182.20" cy="842.30" r="2.60" fill="#d2036a" stroke="none" stroke-width="0"/>
<circle cx="187.75" cy="841.25" r="2.60" fill="#d2036a" stroke="none" stroke-width="0"/>
<circle cx="205.75" cy="841.25" r="2.60" fill="#d2036a" stroke="none" stroke-width="0"/>
<circle cx="217.75" cy="845.00" r="2.60" fill="#d2036a" stroke="none" stroke-width="0"/>
<circle cx="159.25" cy="844.70" r="2.60" fill="#d2036a" stroke="none" stroke-width="0"/>
<circle cx="163.30" cy="845.75" r="2.60" fill="#d2036a" stroke="none" stroke-width="0"/>
<circle cx="175.00" cy="846.50" r="2.60" fill="#d2036a" stroke="none" stroke-width="0"/>
<circle cx="157.75" cy="849.20" r="2.60" fill="#d2036a" stroke="none" stroke-width="0"/>
<circle cx="151.45" cy="851.75" r="2.60" fill="#d2036a" stroke="none" stroke-width="0"/>
<circle cx="168.55" cy="851.00" r="2.60" fill="#d2036a" stroke="none" stroke-width="0"/>
<circle cx="170.50" cy="849.80" r="2.60" fill="#d2036a" stroke="none" stroke-width="0"/>
<circle cx="148.00" cy="861.20" r="2.60" fill="#d2036a" stroke="none" stroke-width="0"/>
<circle cx="165.25" cy="861.80" r="2.60" fill="#d2036a" stroke="none" stroke-width="0"/>
<circle cx="176.50" cy="862.70" r="2.60" fill="#d2036a" stroke="none" stroke-width="0"/>
<circle cx="163.00" cy="866.00" r="2.60" fill="#d2036a" stroke="none" stroke-width="0"/>
<circle cx="162.25" cy="869.00" r="2.60" fill="#d2036a" stroke="none" stroke-width="0"/>
<circle cx="166.00" cy="870.20" r="2.60" fill="#d2036a" stroke="none" stroke-width="0"/>
<circle cx="172.75" cy="870.20" r="2.60" fill="#d2036a" stroke="none" stroke-width="0"/>
<circle cx="175.75" cy="870.80" r="2.60" fill="#d2036a" stroke="none" stroke-width="0"/>
<circle cx="171.70" cy="873.20" r="2.60" fill="#d2036a" stroke="none" stroke-width="0"/>
<circle cx="189.70" cy="868.50" r="2.60" fill="#d2036a" stroke="none" stroke-width="0"/>
<circle cx="217.00" cy="883.50" r="2.60" fill="#d2036a" stroke="none" stroke-width="0"/>
<circle cx="241.50" cy="778.55" r="2.60" fill="#d2036a" stroke="none" stroke-width="0"/>
<circle cx="331.50" cy="809.80" r="2.60" fill="#d2036a" stroke="none" stroke-width="0"/>
<circle cx="377.20" cy="816.35" r="2.60" fill="#d2036a" stroke="none" stroke-width="0"/>
<circle cx="278.60" cy="829.00" r="2.60" fill="#d2036a" stroke="none" stroke-width="0"/>
<circle cx="338.70" cy="829.20" r="2.60" fill="#d2036a" stroke="none" stroke-width="0"/>
<circle cx="224.60" cy="836.40" r="2.60" fill="#d2036a" stroke="none" stroke-width="0"/>
<circle cx="217.90" cy="844.90" r="2.60" fill="#d2036a" stroke="none" stroke-width="0"/>
<circle cx="249.60" cy="841.10" r="2.60" fill="#d2036a" stroke="none" stroke-width="0"/>
<circle cx="290.30" cy="844.90" r="2.60" fill="#d2036a" stroke="none" stroke-width="0"/>
<circle cx="216.75" cy="883.60" r="2.60" fill="#d2036a" stroke="none" stroke-width="0"/>
<circle cx="237.45" cy="886.30" r="2.60" fill="#d2036a" stroke="none" stroke-width="0"/>
<circle cx="293.70" cy="883.60" r="2.60" fill="#d2036a" stroke="none" stroke-width="0"/>
<circle cx="300.50" cy="879.10" r="2.60" fill="#d2036a" stroke="none" stroke-width="0"/>
<circle cx="303.00" cy="878.00" r="2.60" fill="#d2036a" stroke="none" stroke-width="0"/>
<rect x="547.50" y="813.80" width="5.40" height="5.40" fill="#050588" stroke="none" stroke-width="0" />
<rect x="549.00" y="845.00" width="5.40" height="5.40" fill="#050588" stroke="none" stroke-width="0" />
<rect x="538.05" y="855.05" width="5.40" height="5.40" fill="#050588" stroke="none" stroke-width="0" />
<rect x="559.80" y="854.00" width="5.40" height="5.40" fill="#050588" stroke="none" stroke-width="0" />
<rect x="577.50" y="852.50" width="5.40" height="5.40" fill="#050588" stroke="none" stroke-width="0" />
<rect x="573.00" y="857.30" width="5.40" height="5.40" fill="#050588" stroke="none" stroke-width="0" />
<rect x="537.00" y="861.50" width="5.40" height="5.40" fill="#050588" stroke="none" stroke-width="0" />
<rect x="535.05" y="865.10" width="5.40" height="5.40" fill="#050588" stroke="none" stroke-width="0" />
<rect x="578.85" y="866.60" width="5.40" height="5.40" fill="#050588" stroke="none" stroke-width="0" />
<rect x="536.30" y="873.50" width="5.40" height="5.40" fill="#050588" stroke="none" stroke-width="0" />
<rect x="555.60" y="872.60" width="5.40" height="5.40" fill="#050588" stroke="none" stroke-width="0" />
<rect x="559.80" y="871.55" width="5.40" height="5.40" fill="#050588" stroke="none" stroke-width="0" />
<rect x="566.80" y="871.55" width="5.40" height="5.40" fill="#050588" stroke="none" stroke-width="0" />
<rect x="572.30" y="874.55" width="5.40" height="5.40" fill="#050588" stroke="none" stroke-width="0" />
<rect x="589.80" y="871.80" width="5.40" height="5.40" fill="#050588" stroke="none" stroke-width="0" />
<rect x="592.30" y="875.00" width="5.40" height="5.40" fill="#050588" stroke="none" stroke-width="0" />
<rect x="607.60" y="871.10" width="5.40" height="5.40" fill="#050588" stroke="none" stroke-width="0" />
<rect x="618.80" y="871.30" width="5.40" height="5.40" fill="#050588" stroke="none" stroke-width="0" />
<rect x="543.75" y="876.30" width="5.40" height="5.40" fill="#050588" stroke="none" stroke-width="0" />
<rect x="554.55" y="879.50" width="5.40" height="5.40" fill="#050588" stroke="none" stroke-width="0" />
<rect x="549.60" y="881.75" width="5.40" height="5.40" fill="#050588" stroke="none" stroke-width="0" />
<rect x="606.60" y="879.10" width="5.40" height="5.40" fill="#050588" stroke="none" stroke-width="0" />
<rect x="596.55" y="882.30" width="5.40" height="5.40" fill="#050588" stroke="none" stroke-width="0" />
<rect x="530.55" y="882.05" width="5.40" height="5.40" fill="#050588" stroke="none" stroke-width="0" />
<rect x="526.50" y="884.30" width="5.40" height="5.40" fill="#050588" stroke="none" stroke-width="0" />
<rect x="529.80" y="885.05" width="5.40" height="5.40" fill="#050588" stroke="none" stroke-width="0" />
<rect x="563.55" y="882.50" width="5.40" height="5.40" fill="#050588" stroke="none" stroke-width="0" />
<rect x="565.80" y="884.30" width="5.40" height="5.40" fill="#050588" stroke="none" stroke-width="0" />
<rect x="569.55" y="881.75" width="5.40" height="5.40" fill="#050588" stroke="none" stroke-width="0" />
<rect x="563.55" y="885.05" width="5.40" height="5.40" fill="#050588" stroke="none" stroke-width="0" />
<rect x="557.55" y="887.75" width="5.40" height="5.40" fill="#050588" stroke="none" stroke-width="0" />
<rect x="538.50" y="888.80" width="5.40" height="5.40" fill="#050588" stroke="none" stroke-width="0" />
<rect x="586.05" y="891.05" width="5.40" height="5.40" fill="#050588" stroke="none" stroke-width="0" />
<rect x="585.00" y="894.50" width="5.40" height="5.40" fill="#050588" stroke="none" stroke-width="0" />
<rect x="577.80" y="898.80" width="5.40" height="5.40" fill="#050588" stroke="none" stroke-width="0" />
<rect x="619.80" y="898.80" width="5.40" height="5.40" fill="#050588" stroke="none" stroke-width="0" />
<rect x="588.00" y="906.05" width="5.40" height="5.40" fill="#050588" stroke="none" stroke-width="0" />
<rect x="643.30" y="874.80" width="5.40" height="5.40" fill="#050588" stroke="none" stroke-width="0" />
<rect x="644.30" y="881.00" width="5.40" height="5.40" fill="#050588" stroke="none" stroke-width="0" />
<rect x="655.80" y="896.80" width="5.40" height="5.40" fill="#050588" stroke="none" stroke-width="0" />
</svg>
</body></html>
